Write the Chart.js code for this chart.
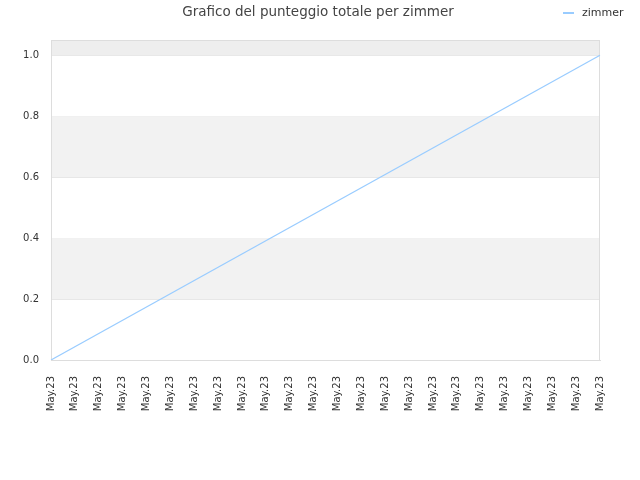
<!DOCTYPE html>
<html>
<head>
<meta charset="utf-8">
<script src="https://cdn.jsdelivr.net/npm/chart.js@4/dist/chart.umd.min.js"></script>
<style>
  html, body { margin: 0; padding: 0; background: #fff; }
  #wrap { width: 640px; height: 480px; }
</style>
</head>
<body>
<div id="wrap"><canvas id="scoreChart" width="640" height="480"></canvas></div>
<script>
// chart data
const chartTitle = 'Grafico del punteggio totale per zimmer';
const seriesName = 'zimmer';
const dateLabels = ['May.23', 'May.23', 'May.23', 'May.23', 'May.23', 'May.23', 'May.23', 'May.23',
                    'May.23', 'May.23', 'May.23', 'May.23', 'May.23', 'May.23', 'May.23', 'May.23',
                    'May.23', 'May.23', 'May.23', 'May.23', 'May.23', 'May.23', 'May.23', 'May.23'];
// only the first and last values are known, the line joins them
const scoreValues = [0, null, null, null, null, null, null, null,
                     null, null, null, null, null, null, null, null,
                     null, null, null, null, null, null, null, 1];
const yTicks = [0, 0.2, 0.4, 0.6, 0.8, 1.0];
const bandRanges = [[0.2, 0.4], [0.6, 0.8], [1.0, 1.05]];
const lineColor = '#99ccff';

// shaded horizontal bands, plot border, title and legend
const bandsPlugin = {
    id: 'bands',
    beforeDatasetsDraw(chart) {
        const { ctx, chartArea, scales } = chart;
        ctx.save();
        bandRanges.forEach(function(r) {
            const y1 = scales.y.getPixelForValue(r[1]);
            const y0 = scales.y.getPixelForValue(r[0]);
            ctx.fillStyle = r[0] >= 1 ? '#eeeeee' : '#f2f2f2';
            ctx.fillRect(chartArea.left, y1, chartArea.right - chartArea.left, y0 - y1);
        });
        ctx.strokeStyle = '#dddddd';
        ctx.lineWidth = 1;
        ctx.strokeRect(chartArea.left + 0.5, chartArea.top + 0.5,
                       chartArea.right - chartArea.left - 1, chartArea.bottom - chartArea.top);
        ctx.restore();
    },
    afterDraw(chart) {
        const ctx = chart.ctx;
        ctx.save();
        ctx.font = '13.5px "DejaVu Sans"';
        ctx.fillStyle = '#444444';
        ctx.textAlign = 'center';
        ctx.textBaseline = 'middle';
        ctx.fillText(chartTitle, 318, 12);

        // legend entry
        ctx.strokeStyle = lineColor;
        ctx.lineWidth = 2;
        ctx.beginPath();
        ctx.moveTo(563, 13);
        ctx.lineTo(574, 13);
        ctx.stroke();
        ctx.font = '11px "DejaVu Sans"';
        ctx.fillStyle = '#333333';
        ctx.textAlign = 'left';
        ctx.fillText(seriesName, 582, 13);
        ctx.restore();
    }
};

const ctx = document.getElementById('scoreChart').getContext('2d');
let scoreChart = new Chart(ctx, {
    type: 'line',
    data: {
        labels: dateLabels,
        datasets: [{
            label: seriesName,
            data: scoreValues,
            borderColor: lineColor,
            backgroundColor: lineColor,
            borderWidth: 1.2,
            pointRadius: 0,
            spanGaps: true,
            tension: 0
        }]
    },
    options: {
        responsive: false,
        animation: false,
        layout: { padding: { left: 0, right: 40, top: 40, bottom: 0 } },
        plugins: {
            title: { display: false },
            tooltip: { enabled: false },
            legend: { display: false }
        },
        scales: {
            x: {
                offset: false,
                grid: { display: false },
                border: { color: '#dddddd' },
                ticks: {
                    autoSkip: false,
                    minRotation: 90,
                    maxRotation: 90,
                    padding: 8,
                    color: '#333333',
                    font: { family: 'DejaVu Sans', size: 10 }
                },
                afterFit(scale) { scale.height = 120; }
            },
            y: {
                min: 0,
                max: 1.05,
                afterBuildTicks(scale) { scale.ticks = yTicks.map(v => ({ value: v })); },
                grid: { color: '#e6e6e6', drawTicks: false },
                border: { color: '#dddddd' },
                ticks: {
                    padding: 12,
                    color: '#333333',
                    font: { family: 'DejaVu Sans', size: 10 },
                    callback: v => v.toFixed(1)
                },
                afterFit(scale) { scale.width = 51; }
            }
        }
    },
    plugins: [bandsPlugin]
});
</script>
</body>
</html>
